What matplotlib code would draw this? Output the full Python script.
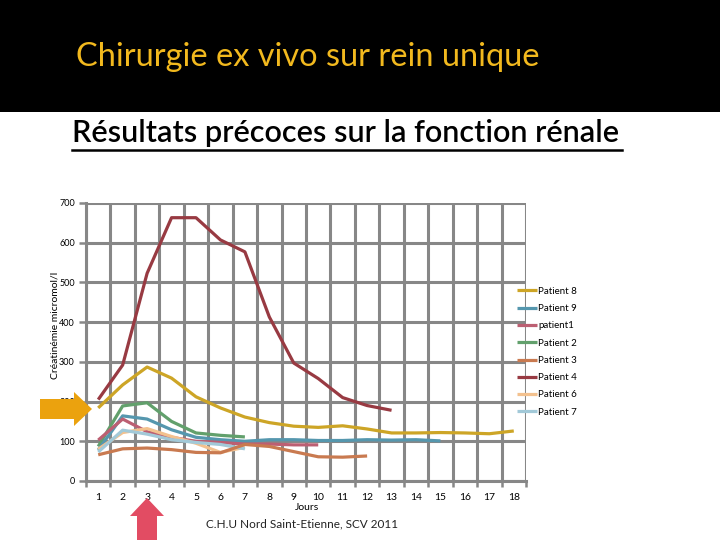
import matplotlib
matplotlib.use("Agg")
import matplotlib.pyplot as plt
import numpy as np
from matplotlib.patches import Rectangle, FancyArrow
from matplotlib.lines import Line2D

# jours post-op
days = list(range(1, 19))

# creatinine (micromol/l)
patient8 = [184, 242, 287, 259, 212, 184, 161, 147, 138, 135, 139, 131, 121, 121, 122, 121, 119, 126]
patient9 = [78, 164, 156, 129, 110, 104, 100, 104, 104, 102, 102, 104, 103, 104, 101]
patient1 = [103, 156, 124, 110, 100, 97, 93, 93, 91, 91]
patient2 = [87, 189, 197, 150, 121, 115, 111]
patient3 = [66, 81, 83, 79, 72, 71, 92, 87, 74, 61, 60, 63]
patient4 = [205, 292, 523, 663, 663, 607, 577, 413, 297, 258, 210, 190, 178]
patient6 = [80, 122, 132, 112, 95, 72, 85]
patient7 = [73, 128, 118, 104, 97, 92, 81]

series = [
    ("Patient 8", patient8, "#CDA526"),
    ("Patient 9", patient9, "#5597AE"),
    ("patient1", patient1, "#BC5F72"),
    ("Patient 2", patient2, "#62A06C"),
    ("Patient 3", patient3, "#C97A50"),
    ("Patient 4", patient4, "#983A42"),
    ("Patient 6", patient6, "#F3C18E"),
    ("Patient 7", patient7, "#A2C9D8"),
]
# draw order so the small ones sit on top like in the slide
draw_order = ["Patient 4", "Patient 8", "Patient 2", "Patient 9", "patient1",
              "Patient 6", "Patient 7", "Patient 3"]

fig = plt.figure(figsize=(7.2, 5.4), dpi=100)
fig.patch.set_facecolor("white")

# black header band
fig.patches.append(Rectangle((0, 1 - 112 / 540), 1, 112 / 540, transform=fig.transFigure,
                             facecolor="black", edgecolor="none", zorder=0))
fig.text(76 / 720, 1 - 57 / 540, "Chirurgie ex vivo sur rein unique", color="#F2B91E",
         fontsize=23.4, family="Lato", ha="left", va="center")
fig.text(72 / 720, 1 - 133 / 540, "Résultats précoces sur la fonction rénale", color="black",
         fontsize=22.1, family="Lato", weight="semibold", ha="left", va="center")
fig.add_artist(Line2D([72 / 720, 622 / 720], [1 - 150 / 540, 1 - 150 / 540],
                      transform=fig.transFigure, color="black", lw=1.8))

ax = fig.add_axes([86 / 720, 59 / 540, 440 / 720, 278 / 540])
lookup = {s[0]: s for s in series}
handles = {}
for name in draw_order:
    lab, vals, col = lookup[name]
    h, = ax.plot(days[:len(vals)], vals, color=col, lw=2.3, solid_joinstyle="round",
                 solid_capstyle="butt", label=lab)
    handles[lab] = h

ax.set_xlim(0.5, 18.5)
ax.set_ylim(0, 700)
ax.set_yticks(range(0, 701, 100))
ax.set_xticks(days)
ax.set_xticks(np.arange(0.5, 19, 1), minor=True)
ax.grid(True, which="minor", axis="x", color="#878787", lw=2.2)
ax.grid(True, which="major", axis="y", color="#878787", lw=2.2)
ax.set_axisbelow(True)
for sp in ["top", "right"]:
    ax.spines[sp].set_visible(False)
for sp in ["left", "bottom"]:
    ax.spines[sp].set_color("#878787")
    ax.spines[sp].set_linewidth(2.2)
ax.tick_params(axis="x", which="major", length=0, labelsize=7.5, pad=9)
ax.tick_params(axis="x", which="minor", length=4, color="#878787", width=1.8)
ax.tick_params(axis="y", length=5, color="#878787", width=1.8, labelsize=6.5, pad=3)
for t in ax.get_xticklabels() + ax.get_yticklabels():
    t.set_family("Lato")

fig.text(55 / 720, 1 - 325 / 540, "Créatinémie micromol/l", rotation=90, fontsize=7.5,
         family="Lato", ha="center", va="center")
fig.text(307 / 720, 1 - 507 / 540, "Jours", fontsize=7.5, family="Lato", ha="center", va="center")
fig.text(302 / 720, 1 - 524 / 540, "C.H.U Nord Saint-Etienne, SCV 2011", fontsize=8.5,
         family="Lato", ha="center", va="center", color="#222222")

leg = ax.legend([handles[s[0]] for s in series], [s[0] for s in series],
                loc="upper left", bbox_to_anchor=(512 / 720, 1 - 282 / 540),
                bbox_transform=fig.transFigure, frameon=False, fontsize=7,
                handlelength=2.1, handletextpad=0.1, labelspacing=0.85, borderpad=0)
for t in leg.get_texts():
    t.set_family("Lato")

# arrows pointing to day 3
fig.add_artist(FancyArrow(40 / 720, 1 - 409 / 540, 52 / 720, 0, width=20 / 540,
                          head_width=34 / 540, head_length=18 / 720, length_includes_head=True,
                          transform=fig.transFigure, color="#EBA20E", ec="none"))
fig.add_artist(FancyArrow(147 / 720, 0, 0, 42 / 540, width=20 / 720,
                          head_width=34 / 720, head_length=18 / 540, length_includes_head=True,
                          transform=fig.transFigure, color="#E24C63", ec="none"))

fig.savefig("out.png", dpi=100)
